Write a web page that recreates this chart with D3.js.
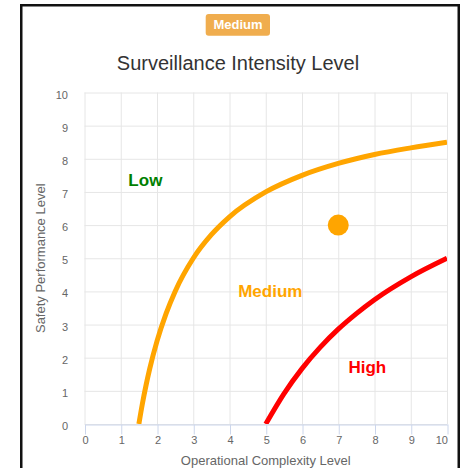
<!DOCTYPE html>
<html lang="en">
<head>
  <meta charset="UTF-8">
  <title>Surveillance Intensity Level</title>
  <script src="https://d3js.org/d3.v7.min.js"></script>
  <style>
    body { margin: 0; background: #fff; }
    svg { display: block; font-family: "Liberation Sans", Arial, sans-serif; }
    .grid line { stroke: #e6e6e6; stroke-width: 1; }
    .axis text { fill: #666; font-size: 11px; font-family: "Liberation Sans", Arial, sans-serif; }
    .zone { font-weight: bold; font-size: 17px; }
  </style>
</head>
<body>
<svg width="462" height="468"></svg>

<script>
  // chart data
  const xTicks = [0, 1, 2, 3, 4, 5, 6, 7, 8, 9, 10];
  const yTicks = [0, 1, 2, 3, 4, 5, 6, 7, 8, 9, 10];

  // low / medium boundary (orange)
  const mediumX = [1.5, 1.6, 1.7, 1.8, 2, 2.25, 2.5, 3, 3.5, 4, 5, 6, 7, 8, 9, 10];
  const mediumY = [0, 0.63, 1.18, 1.67, 2.5, 3.33, 4, 5, 5.71, 6.25, 7, 7.5, 7.86, 8.13, 8.33, 8.5];

  // medium / high boundary (red)
  const highX = [5, 5.5, 6, 6.5, 7, 7.5, 8, 9, 10];
  const highY = [0, 0.91, 1.67, 2.31, 2.86, 3.33, 3.75, 4.44, 5];

  const zoneNames = ["Low", "Medium", "High"];
  const zoneX = [1.21, 4.24, 7.28];
  const zoneY = [7.17, 3.83, 1.55];

  const currentX = 7, currentY = 6;
  const currentLevel = "Medium";

  const svg = d3.select("svg");

  const x = d3.scaleLinear().domain([0, 10]).range([84.5, 447]);
  const y = d3.scaleLinear().domain([0, 10]).range([424, 92.5]);

  // outer frame
  svg.append("rect")
    .attr("x", 21.25).attr("y", 5.25)
    .attr("width", 437.5).attr("height", 480)
    .attr("fill", "none")
    .attr("stroke", "#111")
    .attr("stroke-width", 2.5);

  // level badge
  svg.append("rect")
    .attr("x", 205.7).attr("y", 14)
    .attr("width", 64.3).attr("height", 21.7)
    .attr("rx", 3)
    .attr("fill", "#f0ad4e");
  svg.append("text")
    .attr("x", 238).attr("y", 29)
    .attr("text-anchor", "middle")
    .attr("fill", "#fff")
    .attr("font-weight", "bold")
    .attr("font-size", "13px")
    .text(currentLevel);

  // title
  svg.append("text")
    .attr("x", 238).attr("y", 70)
    .attr("text-anchor", "middle")
    .attr("fill", "#333")
    .attr("font-size", "20px")
    .text("Surveillance Intensity Level");

  // grid
  const grid = svg.append("g").attr("class", "grid");
  grid.selectAll(".v").data(xTicks).join("line")
    .attr("x1", d => x(d) + 0.5).attr("x2", d => x(d) + 0.5)
    .attr("y1", y(10)).attr("y2", y(0));
  grid.selectAll(".h").data(yTicks).join("line")
    .attr("x1", x(0)).attr("x2", x(10))
    .attr("y1", d => y(d) + 0.5).attr("y2", d => y(d) + 0.5);

  // x axis
  const xAxis = svg.append("g")
    .attr("class", "axis")
    .attr("transform", `translate(0.5,${y(0) + 0.5})`)
    .call(d3.axisBottom(x).tickValues(xTicks).tickSize(10).tickPadding(2).tickSizeOuter(0));
  xAxis.select(".domain").attr("stroke", "#ccd6eb");
  xAxis.selectAll(".tick line").attr("stroke", "#ccd6eb");
  // last label kept inside the plot edge
  xAxis.selectAll(".tick text")
    .filter(d => d === 10)
    .attr("text-anchor", "end");

  // y axis
  const yAxis = svg.append("g")
    .attr("class", "axis")
    .attr("transform", `translate(${x(0)},0)`)
    .call(d3.axisLeft(y).tickValues(yTicks).tickSize(0).tickPadding(16.5));
  yAxis.select(".domain").remove();
  yAxis.selectAll(".tick text").attr("dy", "0.5em");

  // axis titles
  svg.append("text")
    .attr("x", (x(0) + x(10)) / 2).attr("y", 464.5)
    .attr("text-anchor", "middle")
    .attr("fill", "#666")
    .attr("font-size", "13px")
    .text("Operational Complexity Level");
  svg.append("text")
    .attr("transform", `translate(44.5,${(y(0) + y(10)) / 2}) rotate(-90)`)
    .attr("text-anchor", "middle")
    .attr("fill", "#666")
    .attr("font-size", "13px")
    .text("Safety Performance Level");

  // boundary curves, clipped to the plot box
  svg.append("clipPath").attr("id", "plot")
    .append("rect")
    .attr("x", x(0)).attr("y", y(10))
    .attr("width", x(10) - x(0)).attr("height", y(0) - y(10));

  const line = d3.line()
    .x(d => x(d[0]))
    .y(d => y(d[1]))
    .curve(d3.curveMonotoneX);

  const curves = svg.append("g").attr("clip-path", "url(#plot)");
  curves.append("path")
    .datum(mediumX.map((v, i) => [v, mediumY[i]]))
    .attr("d", line)
    .attr("fill", "none")
    .attr("stroke", "#FFA500")
    .attr("stroke-width", 5);
  curves.append("path")
    .datum(highX.map((v, i) => [v, highY[i]]))
    .attr("d", line)
    .attr("fill", "none")
    .attr("stroke", "#FF0000")
    .attr("stroke-width", 5);

  // current position
  svg.append("circle")
    .attr("cx", x(currentX)).attr("cy", y(currentY))
    .attr("r", 10.5)
    .attr("fill", "#FFA500");

  // zone labels
  const zoneColors = ["#008000", "#FFA500", "#FF0000"];
  svg.selectAll(".zone").data(zoneNames).join("text")
    .attr("class", "zone")
    .attr("x", (d, i) => x(zoneX[i]))
    .attr("y", (d, i) => y(zoneY[i]))
    .attr("fill", (d, i) => zoneColors[i])
    .text(d => d);
</script>
</body>
</html>
